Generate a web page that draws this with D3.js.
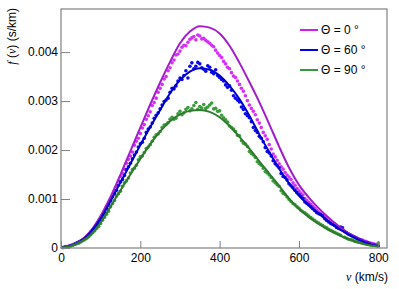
<!DOCTYPE html>
<html>
<head>
  <script src="https://d3js.org/d3.v7.min.js"></script>
  <style>
    body { margin: 0; background: #fff; }
    text { font-family: "Liberation Sans", Arial, sans-serif; }
  </style>
</head>
<body>
  <svg id="chart" width="399" height="289"></svg>
  <script>
    // fitted curves (v in km/s, f in s/km)
    const vLine = [0, 25, 50, 75, 100, 125, 150, 175, 200, 225, 250, 275, 300, 325, 350, 375, 400,
      425, 450, 475, 500, 525, 550, 575, 600, 625, 650, 675, 700, 725, 750, 775, 800];
    const fit0 = [0, 0.00005, 0.00015, 0.00035, 0.00066, 0.00105, 0.0015, 0.00198, 0.00246, 0.00293,
      0.00338, 0.0038, 0.00418, 0.00442, 0.00453, 0.0045, 0.00438, 0.00413, 0.00378, 0.00339,
      0.00298, 0.00253, 0.00207, 0.00164, 0.00129, 0.00103, 0.00081, 0.00062, 0.00045, 0.0003,
      0.00018, 0.0001, 0.00004];
    const fit60 = [0, 0.00005, 0.00014, 0.00033, 0.0006, 0.00096, 0.00134, 0.00172, 0.0021, 0.00247,
      0.00282, 0.00316, 0.00343, 0.0036, 0.00367, 0.00364, 0.00352, 0.00331, 0.00304, 0.0027,
      0.00232, 0.00196, 0.00162, 0.00132, 0.00107, 0.00087, 0.0007, 0.00054, 0.0004, 0.00028,
      0.00017, 0.00009, 0.00004];
    const fit90 = [0, 0.00004, 0.00013, 0.00027, 0.00052, 0.00085, 0.00118, 0.0015, 0.00182, 0.00212,
      0.00238, 0.00259, 0.00273, 0.0028, 0.00282, 0.00278, 0.00267, 0.00249, 0.00227, 0.00203,
      0.00177, 0.00152, 0.00127, 0.00101, 0.0008, 0.00063, 0.00049, 0.00037, 0.00027, 0.00018,
      0.00011, 0.00006, 0.00003];

    // measured points, every 5 km/s from 5 to 800 (one row = 50 km/s)
    const vPts = d3.range(5, 801, 5);
    const pts0 = [
      0.00001, 0.00002, 0.00003, 0.00004, 0.00005, 0.00007, 0.00008, 0.0001, 0.00012, 0.00014,
      0.00017, 0.0002, 0.00024, 0.00027, 0.00033, 0.00037, 0.00042, 0.00049, 0.00053, 0.0006,
      0.00068, 0.00074, 0.00085, 0.00092, 0.00099, 0.00108, 0.00118, 0.00125, 0.00137, 0.00146,
      0.00152, 0.00161, 0.00173, 0.00181, 0.00188, 0.00196, 0.0021, 0.00218, 0.00224, 0.00234,
      0.00245, 0.00252, 0.00263, 0.0027, 0.00278, 0.00291, 0.00297, 0.00306, 0.00318, 0.00326,
      0.00334, 0.00345, 0.0035, 0.00362, 0.00368, 0.00378, 0.00384, 0.00394, 0.00396, 0.00402,
      0.0041, 0.00414, 0.00413, 0.0042, 0.00426, 0.00429, 0.00432, 0.00425, 0.00435, 0.00433,
      0.00427, 0.00428, 0.00424, 0.00421, 0.00418, 0.00414, 0.00411, 0.00404, 0.00398, 0.00393,
      0.00389, 0.00381, 0.00376, 0.00369, 0.00366, 0.00358, 0.00351, 0.00348, 0.00341, 0.00334,
      0.00326, 0.0032, 0.00311, 0.00301, 0.00292, 0.00285, 0.00279, 0.00272, 0.00262, 0.00255,
      0.00246, 0.00236, 0.00229, 0.00222, 0.00211, 0.00202, 0.00192, 0.00186, 0.00179, 0.00172,
      0.00166, 0.00161, 0.00154, 0.00149, 0.00145, 0.0014, 0.00133, 0.00128, 0.00122, 0.00117,
      0.00112, 0.00108, 0.00101, 0.00097, 0.00093, 0.00089, 0.00085, 0.00081, 0.00077, 0.00073,
      0.00069, 0.00066, 0.00062, 0.00059, 0.00055, 0.00052, 0.00049, 0.00046, 0.00043, 0.00041,
      0.00038, 0.00036, 0.00033, 0.00031, 0.00029, 0.00027, 0.00025, 0.00023, 0.00021, 0.00019,
      0.00017, 0.00016, 0.00014, 0.00013, 0.00011, 0.0001, 0.00009, 0.00008, 0.00007, 0.00006];
    const pts60 = [
      0.00001, 0.00002, 0.00002, 0.00003, 0.00005, 0.00006, 0.00008, 0.0001, 0.00012, 0.00014,
      0.00016, 0.00019, 0.00023, 0.00026, 0.0003, 0.00035, 0.0004, 0.00046, 0.00051, 0.00058,
      0.00065, 0.00071, 0.0008, 0.00088, 0.00097, 0.00104, 0.00111, 0.00118, 0.00128, 0.00135,
      0.0014, 0.00148, 0.0016, 0.00166, 0.00173, 0.00182, 0.0019, 0.00196, 0.00206, 0.00213,
      0.00216, 0.00224, 0.00236, 0.00243, 0.00247, 0.00255, 0.00265, 0.00271, 0.00276, 0.00284,
      0.00292, 0.00299, 0.00302, 0.00306, 0.00318, 0.00326, 0.00325, 0.00331, 0.00341, 0.00347,
      0.00344, 0.00352, 0.00362, 0.00347, 0.00371, 0.00378, 0.00366, 0.00371, 0.00379, 0.00376,
      0.00368, 0.00365, 0.00361, 0.00372, 0.00369, 0.00359, 0.00356, 0.00364, 0.00352, 0.00348,
      0.00344, 0.00341, 0.00333, 0.00328, 0.00331, 0.00322, 0.00311, 0.00306, 0.00302, 0.00298,
      0.00288, 0.00283, 0.00274, 0.0027, 0.00266, 0.00258, 0.00246, 0.0024, 0.00236, 0.00228,
      0.00224, 0.00217, 0.00205, 0.00197, 0.00194, 0.00188, 0.00178, 0.00172, 0.00168, 0.00164,
      0.00152, 0.00146, 0.00144, 0.00139, 0.00131, 0.00127, 0.00123, 0.00118, 0.00113, 0.00109,
      0.00105, 0.00101, 0.00094, 0.00091, 0.00088, 0.00084, 0.0008, 0.00076, 0.00072, 0.0007,
      0.00069, 0.00066, 0.0006, 0.00056, 0.00053, 0.0005, 0.00048, 0.00046, 0.00042, 0.0004,
      0.00043, 0.00041, 0.00034, 0.00031, 0.00028, 0.00026, 0.00024, 0.00022, 0.0002, 0.00018,
      0.00016, 0.00014, 0.00012, 0.00011, 0.0001, 0.00008, 0.00007, 0.00006, 0.00005, 0.00004];
    const pts90 = [
      0.00001, 0.00001, 0.00002, 0.00003, 0.00004, 0.00006, 0.00007, 0.00009, 0.0001, 0.00012,
      0.00015, 0.00017, 0.0002, 0.00023, 0.00027, 0.00031, 0.00035, 0.0004, 0.00044, 0.0005,
      0.00057, 0.00063, 0.00069, 0.00075, 0.00084, 0.00091, 0.00097, 0.00106, 0.00111, 0.00116,
      0.00126, 0.00133, 0.00137, 0.00143, 0.00153, 0.0016, 0.00163, 0.00169, 0.0018, 0.00186,
      0.00188, 0.00195, 0.00203, 0.00206, 0.00211, 0.00218, 0.00226, 0.00231, 0.00233, 0.00238,
      0.00246, 0.00251, 0.00252, 0.00256, 0.00263, 0.00267, 0.00263, 0.00265, 0.00274, 0.00279,
      0.00272, 0.00276, 0.00283, 0.00287, 0.0028, 0.00284, 0.00291, 0.00297, 0.00283, 0.00289,
      0.00286, 0.00293, 0.00285, 0.00288, 0.00292, 0.00296, 0.00284, 0.00285, 0.00279, 0.0028,
      0.00271, 0.00266, 0.00262, 0.00257, 0.00249, 0.00246, 0.00243, 0.00238, 0.0023, 0.00229,
      0.00219, 0.00214, 0.00212, 0.00207, 0.00197, 0.00193, 0.0019, 0.00185, 0.00176, 0.00172,
      0.00169, 0.00163, 0.00156, 0.00153, 0.00149, 0.00144, 0.00137, 0.00133, 0.00129, 0.00126,
      0.00117, 0.00112, 0.00109, 0.00104, 0.00099, 0.00095, 0.00091, 0.00088, 0.00084, 0.00081,
      0.00077, 0.00074, 0.00072, 0.00069, 0.00065, 0.00062, 0.00059, 0.00056, 0.00053, 0.00051,
      0.00048, 0.00046, 0.00043, 0.00041, 0.00038, 0.00036, 0.00034, 0.00032, 0.0003, 0.00028,
      0.00026, 0.00037, 0.00022, 0.0002, 0.00018, 0.00017, 0.00016, 0.00014, 0.00013, 0.00012,
      0.00011, 0.0001, 0.00009, 0.00008, 0.00007, 0.00006, 0.00006, 0.00005, 0.00005, 0.0001];

    const xTicks = [0, 200, 400, 600, 800];
    const yTicks = [0, 0.001, 0.002, 0.003, 0.004];
    const legendLabels = ["\u0398 = 0 \u00b0", "\u0398 = 60 \u00b0", "\u0398 = 90 \u00b0"];

    const series = [
      { fit: fit0, pts: pts0, line: "#a21ccc", dot: "#d62ff5", key: "#cc1ff0" },
      { fit: fit60, pts: pts60, line: "#0000cc", dot: "#0a0aee", key: "#0000ee" },
      { fit: fit90, pts: pts90, line: "#2f7a2f", dot: "#3c9c3c", key: "#33993a" }
    ];

    const svg = d3.select("#chart");
    const plotL = 61, plotR = 387, plotT = 9, plotB = 248;

    const x = d3.scaleLinear().domain([0, 822]).range([plotL, plotR]);
    const y = d3.scaleLinear().domain([0, 0.00488]).range([plotB, plotT]);

    // points first, curves on top
    series.forEach(s => {
      svg.append("g").selectAll("circle")
        .data(vPts)
        .join("circle")
        .attr("cx", d => x(d))
        .attr("cy", (d, i) => y(s.pts[i]))
        .attr("r", 1.8)
        .attr("fill", s.dot);
    });

    const line = d3.line().curve(d3.curveMonotoneX);
    series.forEach(s => {
      svg.append("path")
        .attr("d", line(vLine.map((v, i) => [x(v), y(s.fit[i])])))
        .attr("fill", "none")
        .attr("stroke", s.line)
        .attr("stroke-width", 2);
    });

    // frame
    svg.append("rect")
      .attr("x", plotL).attr("y", plotT)
      .attr("width", plotR - plotL).attr("height", plotB - plotT)
      .attr("fill", "none").attr("stroke", "#808080").attr("stroke-width", 1.2);

    // axes, ticks pointing inward
    const xAxis = svg.append("g")
      .attr("transform", `translate(0,${plotB})`)
      .call(d3.axisBottom(x).tickValues(xTicks).tickSize(-7).tickPadding(5).tickFormat(d3.format("d")));
    const yAxis = svg.append("g")
      .attr("transform", `translate(${plotL},0)`)
      .call(d3.axisLeft(y).tickValues(yTicks).tickSize(-9).tickPadding(3)
        .tickFormat(d => d === 0 ? "0" : d3.format(".3f")(d)));
    [xAxis, yAxis].forEach(a => {
      a.select(".domain").remove();
      a.selectAll("line").attr("stroke", "#808080");
      a.selectAll("text").attr("font-size", 12).attr("fill", "#000")
        .attr("font-family", "Liberation Sans, Arial, sans-serif");
    });

    // axis titles
    const xt = svg.append("text")
      .attr("x", 388).attr("y", 281)
      .attr("text-anchor", "end").attr("font-size", 12);
    xt.append("tspan").attr("font-family", "Liberation Serif, serif").attr("font-style", "italic").text("v");
    xt.append("tspan").text(" (km/s)");

    const yt = svg.append("text")
      .attr("transform", "translate(16,8) rotate(-90)")
      .attr("text-anchor", "end").attr("font-size", 12);
    yt.append("tspan").attr("font-family", "Liberation Serif, serif").attr("font-style", "italic").text("f");
    yt.append("tspan").text(" (");
    yt.append("tspan").attr("font-family", "Liberation Serif, serif").attr("font-style", "italic").text("v");
    yt.append("tspan").text(") (s/km)");

    // legend
    const legend = svg.append("g");
    series.forEach((s, i) => {
      const ly = 30 + i * 20;
      legend.append("line")
        .attr("x1", 300).attr("x2", 318).attr("y1", ly).attr("y2", ly)
        .attr("stroke", s.key).attr("stroke-width", 2);
      legend.append("text")
        .attr("x", 321).attr("y", ly + 4)
        .attr("font-size", 12)
        .text(legendLabels[i]);
    });
  </script>
</body>
</html>
